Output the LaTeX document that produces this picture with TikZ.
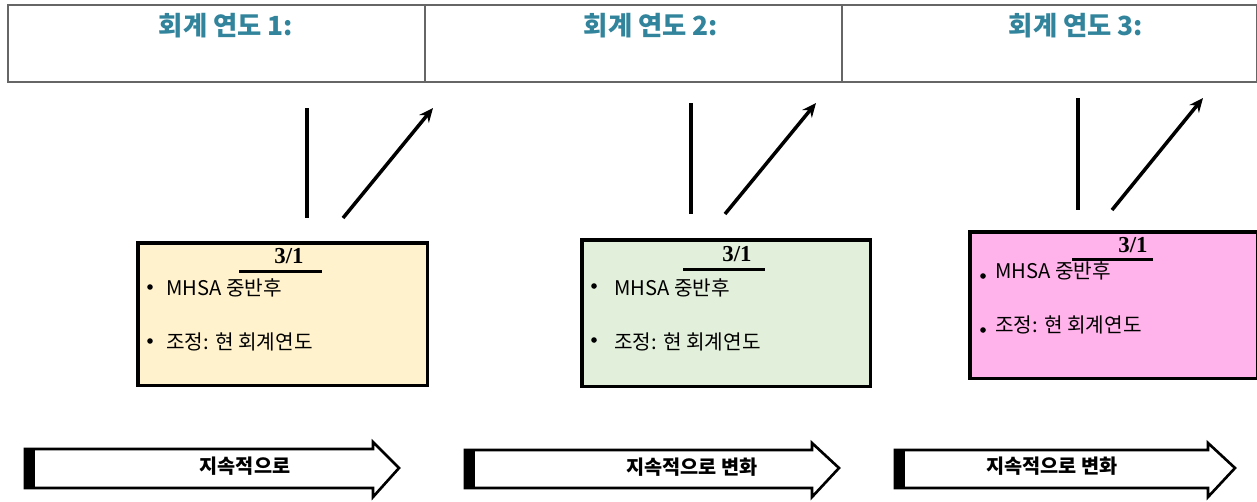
\documentclass[tikz,border=0pt]{standalone}
\usepackage{fontspec}
\setmainfont{Noto Sans CJK KR}
\newfontfamily\numfont{Liberation Serif}
\usepackage{xcolor}
\usepackage{tikz}
\usetikzlibrary{arrows.meta}

\definecolor{titleteal}{HTML}{31849B}
\definecolor{boxyellow}{HTML}{FFF2CC}
\definecolor{boxgreen}{HTML}{E2EFDA}
\definecolor{boxpink}{HTML}{FFB3EA}

\begin{document}
\begin{tikzpicture}[
  x=0.02cm, y=-0.02cm,
  >=Stealth,
  yearframe/.style={draw=black!60, line width=1.2pt},
  yeartitle/.style={font=\fontsize{15}{17}\selectfont\bfseries, text=titleteal},
  dateline/.style={line width=2pt},
  datearrow/.style={line width=2pt, ->, >={Stealth[length=8pt,width=7pt]}},
  datebox/.style={draw=black, line width=2pt, inner sep=0pt, anchor=north west},
  datelabel/.style={font=\numfont\fontsize{13}{15}\selectfont\bfseries},
  itemtext/.style={anchor=west, inner sep=0pt, font=\fontsize{11.5}{13}\selectfont},
  flowframe/.style={draw=black, line width=1.5pt, fill=white, line join=miter},
  flowtext/.style={font=\fontsize{11.2}{13}\selectfont\bfseries},
]
\useasboundingbox (0,0) rectangle (1257,501);

%%% Year header frame %%%
\draw[yearframe] (8,5) rectangle (1257,82);
\foreach \x in {425,842} {
  \draw[yearframe] (\x,5) -- (\x,82);
}
\node[yeartitle] (year1) at (226,26) {회계 연도 1:};
\node[yeartitle] (year2) at (651,26) {회계 연도 2:};
\node[yeartitle] (year3) at (1076,26) {회계 연도 3:};

%%% Panel 1 %%%
\begin{scope}
  % Lines above the box
  \coordinate (l1a) at (307,108);
  \coordinate (l1b) at (307,218);
  \coordinate (r1a) at (343,218);
  \coordinate (r1b) at (433,108);
  \draw[dateline] (l1a) -- (l1b);
  \draw[datearrow] (r1a) -- (r1b);

  % Date box
  \node[datebox, fill=boxyellow, minimum width=5.8cm, minimum height=2.86cm] (box1) at (136,241) {};
  \node[datelabel] (date1) at (289,256) {3/1};
  \draw[line width=1.7pt] (239,271) -- (322,271);
  \fill (150,287) circle (2.8);
  \node[itemtext] (item1a) at (166,288) {MHSA 중반후};
  \fill (150,341) circle (2.8);
  \node[itemtext] (item1b) at (166,342) {조정: 현 회계연도};

  % Flow arrow
  \draw[flowframe] (25,449) -- (373,449) -- (373,442) -- (399,468) -- (373,497) -- (373,488) -- (25,488) -- cycle;
  \fill (25,449) rectangle (35,488);
  \node[flowtext] (flow1) at (245,466) {지속적으로};
\end{scope}

%%% Panel 2 %%%
\begin{scope}
  % Lines above the box
  \coordinate (l2a) at (691,103);
  \coordinate (l2b) at (691,214);
  \coordinate (r2a) at (725,214);
  \coordinate (r2b) at (816,103);
  \draw[dateline] (l2a) -- (l2b);
  \draw[datearrow] (r2a) -- (r2b);

  % Date box
  \node[datebox, fill=boxgreen, minimum width=5.78cm, minimum height=2.94cm] (box2) at (580,238) {};
  \node[datelabel] (date2) at (737,254) {3/1};
  \draw[line width=1.7pt] (683,269) -- (765,269);
  \fill (594,286) circle (2.8);
  \node[itemtext] (item2a) at (614,288) {MHSA 중반후};
  \fill (594,340) circle (2.8);
  \node[itemtext] (item2b) at (614,342) {조정: 현 회계연도};

  % Flow arrow
  \draw[flowframe] (465,450) -- (812,450) -- (812,443) -- (839,468) -- (812,497) -- (812,488) -- (465,488) -- cycle;
  \fill (465,450) rectangle (475,488);
  \node[flowtext] (flow2) at (692,467) {지속적으로 변화};
\end{scope}

%%% Panel 3 %%%
\begin{scope}
  % Lines above the box
  \coordinate (l3a) at (1078,98);
  \coordinate (l3b) at (1078,210);
  \coordinate (r3a) at (1112,210);
  \coordinate (r3b) at (1203,98);
  \draw[dateline] (l3a) -- (l3b);
  \draw[datearrow] (r3a) -- (r3b);

  % Date box
  \node[datebox, fill=boxpink, minimum width=5.76cm, minimum height=2.94cm] (box3) at (968,230) {};
  \node[datelabel] (date3) at (1133,245) {3/1};
  \draw[line width=1.7pt] (1072,259) -- (1153,259);
  \fill (983,276) circle (2.8);
  \node[itemtext] (item3a) at (995,271) {MHSA 중반후};
  \fill (983,330) circle (2.8);
  \node[itemtext] (item3b) at (995,325) {조정: 현 회계연도};

  % Flow arrow
  \draw[flowframe] (895,450) -- (1208,450) -- (1208,443) -- (1235,468) -- (1208,497) -- (1208,488) -- (895,488) -- cycle;
  \fill (895,450) rectangle (905,488);
  \node[flowtext] (flow3) at (1052,466) {지속적으로 변화};
\end{scope}

\end{tikzpicture}
\end{document}
